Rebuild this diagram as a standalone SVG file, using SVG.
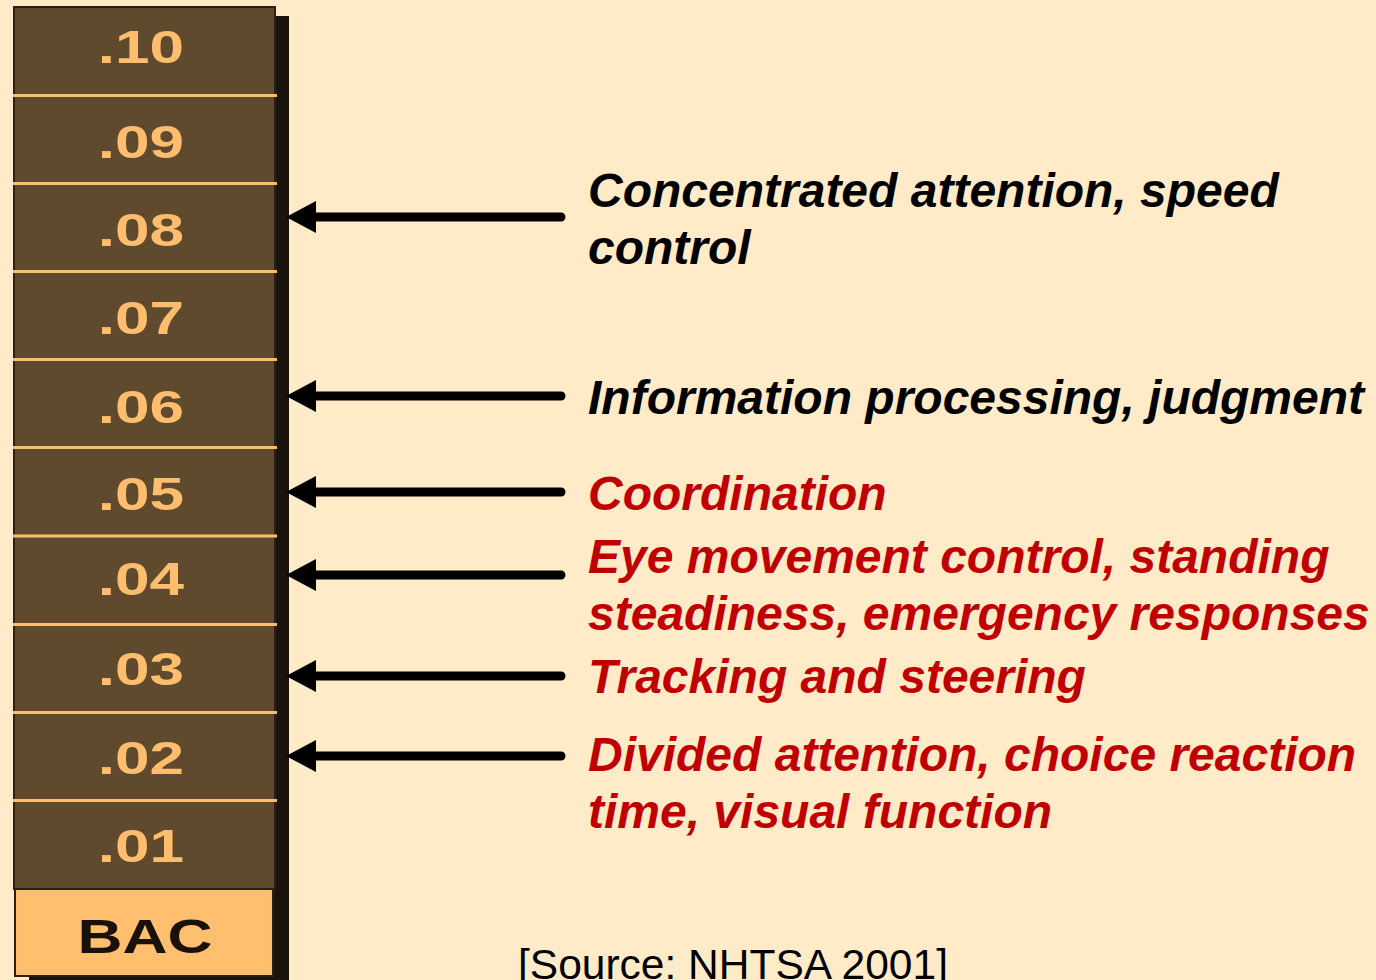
<svg xmlns="http://www.w3.org/2000/svg" width="1376" height="980" viewBox="0 0 1376 980">
  <defs>
    <style>
      .cell { fill: #5F4A2E; }
      .rule { stroke: #FFBE6E; stroke-width: 3; }
      .val { font-family: "Liberation Sans", Arial, sans-serif; font-weight: bold; font-size: 46px; fill: #FFBE6E; text-anchor: middle; }
      .bac { font-family: "Liberation Sans", Arial, sans-serif; font-weight: bold; font-size: 48px; fill: #1A120A; text-anchor: middle; }
      .lbl { font-family: "Liberation Sans", Arial, sans-serif; font-weight: bold; font-style: italic; font-size: 48px; }
      .blk { fill: #000000; }
      .red { fill: #C00000; }
      .src { font-family: "Liberation Sans", Arial, sans-serif; font-size: 42.5px; fill: #000000; }
      .shaft { stroke: #000000; stroke-width: 9; stroke-linecap: round; fill: none; }
      .head { fill: #000000; }
    </style>
    <!-- left-pointing arrowhead, tip at the origin -->
    <path id="tip" class="head" d="M0,0 L30,-16 L30,16 Z"/>
  </defs>

  <!-- page -->
  <rect x="0" y="0" width="1376" height="980" fill="#FFEBC7"/>

  <!-- BAC scale column -->
  <g id="scale">
    <rect x="274" y="16" width="15" height="964" fill="#1A130B"/>
    <rect x="29" y="974" width="260" height="6" fill="#1A130B"/>
    <rect x="14" y="7" width="261" height="882" class="cell" stroke="#2A2015" stroke-width="2"/>
    <line class="rule" x1="13" y1="95.5" x2="277" y2="95.5"/>
    <line class="rule" x1="13" y1="183.5" x2="277" y2="183.5"/>
    <line class="rule" x1="13" y1="271.5" x2="277" y2="271.5"/>
    <line class="rule" x1="13" y1="359.5" x2="277" y2="359.5"/>
    <line class="rule" x1="13" y1="447.5" x2="277" y2="447.5"/>
    <line class="rule" x1="13" y1="536" x2="277" y2="536"/>
    <line class="rule" x1="13" y1="624.5" x2="277" y2="624.5"/>
    <line class="rule" x1="13" y1="712.5" x2="277" y2="712.5"/>
    <line class="rule" x1="13" y1="800.5" x2="277" y2="800.5"/>
  </g>
  <g id="v10"><text class="val" transform="translate(141,63) scale(1.35,1)">.10</text></g>
  <g id="v09"><text class="val" transform="translate(141,158) scale(1.35,1)">.09</text></g>
  <g id="v08"><text class="val" transform="translate(141,246) scale(1.35,1)">.08</text></g>
  <g id="v07"><text class="val" transform="translate(141,334) scale(1.35,1)">.07</text></g>
  <g id="v06"><text class="val" transform="translate(141,423) scale(1.35,1)">.06</text></g>
  <g id="v05"><text class="val" transform="translate(141,510) scale(1.35,1)">.05</text></g>
  <g id="v04"><text class="val" transform="translate(141,595) scale(1.35,1)">.04</text></g>
  <g id="v03"><text class="val" transform="translate(141,685) scale(1.35,1)">.03</text></g>
  <g id="v02"><text class="val" transform="translate(141,774) scale(1.35,1)">.02</text></g>
  <g id="v01"><text class="val" transform="translate(141,862) scale(1.35,1)">.01</text></g>
  <g id="bac">
    <rect x="15" y="889" width="258" height="87" fill="#FFBF6F" stroke="#2A2015" stroke-width="2"/>
    <text class="bac" transform="translate(145,953) scale(1.3,1)">BAC</text>
  </g>

  <!-- connectors -->
  <g id="connectors">
    <line class="shaft" x1="561" y1="217" x2="310" y2="217"/>
    <use href="#tip" x="286" y="217"/>
    <line class="shaft" x1="561" y1="396" x2="310" y2="396"/>
    <use href="#tip" x="286" y="396"/>
    <line class="shaft" x1="561" y1="492" x2="310" y2="492"/>
    <use href="#tip" x="286" y="492"/>
    <line class="shaft" x1="561" y1="575" x2="310" y2="575"/>
    <use href="#tip" x="286" y="575"/>
    <line class="shaft" x1="561" y1="676" x2="310" y2="676"/>
    <use href="#tip" x="286" y="676"/>
    <line class="shaft" x1="561" y1="756" x2="310" y2="756"/>
    <use href="#tip" x="286" y="756"/>
  </g>

  <!-- effect labels -->
  <g id="l08"><text class="lbl blk" x="588" y="207">Concentrated attention, speed<tspan x="588" y="264">control</tspan></text></g>
  <g id="l06"><text class="lbl blk" x="588" y="414">Information processing, judgment</text></g>
  <g id="l05"><text class="lbl red" x="588" y="510">Coordination</text></g>
  <g id="l04"><text class="lbl red" x="588" y="573">Eye movement control, standing<tspan x="588" y="630">steadiness, emergency responses</tspan></text></g>
  <g id="l03"><text class="lbl red" x="588" y="693">Tracking and steering</text></g>
  <g id="l02"><text class="lbl red" x="588" y="771">Divided attention, choice reaction<tspan x="588" y="828">time, visual function</tspan></text></g>

  <g id="source"><text class="src" x="518" y="979">[Source: NHTSA 2001]</text></g>
</svg>
